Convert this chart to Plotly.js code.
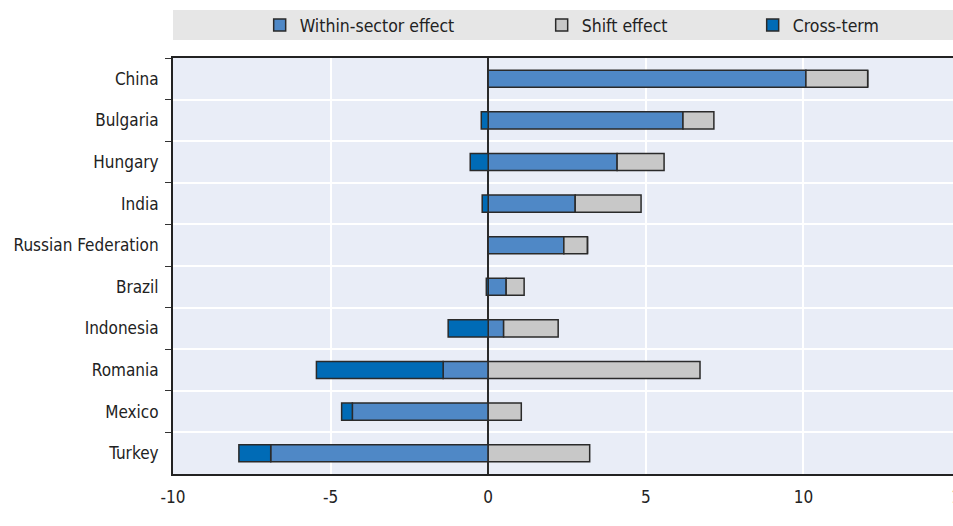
<!DOCTYPE html>
<html><head><meta charset="utf-8">
<script src="https://cdn.plot.ly/plotly-3.0.1.min.js"></script>
<style>html,body{margin:0;padding:0;overflow:hidden;background:#fff}</style>
</head><body><div id="chart" style="width:1000px;height:526px"></div>
<script>
const countries = ["China","Bulgaria","Hungary","India","Russian Federation","Brazil","Indonesia","Romania","Mexico","Turkey"];
const withinSector = [10.08, 6.18, 4.09, 2.76, 2.40, 0.57, 0.49, -1.43, -4.31, -6.90];
const shiftEffect = [1.96, 0.98, 1.49, 2.09, 0.75, 0.57, 1.73, 6.72, 1.05, 3.22];
const crossTerm = [0, -0.22, -0.57, -0.19, 0, -0.06, -1.27, -4.02, -0.34, -1.01];
const seriesNames = ["Within-sector effect", "Shift effect", "Cross-term"];
const seriesColors = ["#4f88c6", "#c8c8c8", "#006bb6"];
const xTicks = [-10, -5, 0, 5, 10, 15];

const FONT = "'Liberation Sans Narrow', 'DejaVu Sans Condensed', 'Arial Narrow', sans-serif";
const seriesValues = [withinSector, shiftEffect, crossTerm];
const legendWidths = [237, 166, 100];
const traces = seriesValues.map((vals, i) => ({
  type: "bar",
  orientation: "h",
  name: seriesNames[i],
  y: countries,
  x: vals,
  width: 0.41,
  legendwidth: legendWidths[i],
  marker: {color: seriesColors[i], line: {color: "#2a2a2a", width: 1.5}},
  hoverinfo: "x+y+name"
}));

const layout = {
  width: 1000, height: 526,
  margin: {l: 173, r: 39, t: 58, b: 52, autoexpand: false},
  barmode: "relative",
  paper_bgcolor: "#ffffff",
  plot_bgcolor: "#e9edf7",
  font: {family: FONT, size: 17, color: "#222222"},
  showlegend: true,
  legend: {orientation: "h", x: 0.110, xanchor: "left", y: (474.5 - 25) / 416.5, yanchor: "middle",
           bgcolor: "rgba(0,0,0,0)", font: {family: FONT, size: 17.5, color: "#222222"},
           traceorder: "normal"},
  xaxis: {
    range: [-10, 15], tickvals: xTicks, ticktext: xTicks.map(String),
    showgrid: true, gridcolor: "#ffffff", gridwidth: 2,
    zeroline: true, zerolinecolor: "#2a2a2a", zerolinewidth: 2,
    showline: true, linecolor: "#222222", linewidth: 2, mirror: true,
    ticks: "", ticklabelstandoff: 7, tickfont: {family: FONT, size: 17, color: "#222222"},
    fixedrange: true
  },
  yaxis: {
    type: "category", autorange: "reversed",
    tickson: "boundaries", ticks: "outside", ticklen: 6, tickcolor: "#333333", tickwidth: 1,
    showgrid: true, gridcolor: "#ffffff", gridwidth: 2,
    showline: true, linecolor: "#222222", linewidth: 2, mirror: true,
    tickfont: {family: FONT, size: 17, color: "#222222"},
    ticklabelstandoff: 9,
    fixedrange: true
  },
  shapes: [{type: "rect", xref: "paper", yref: "paper", x0: 0, x1: 1.05,
            y0: (474.5 - 40) / 416.5, y1: (474.5 - 10) / 416.5,
            fillcolor: "#e6e6e6", line: {width: 0}, layer: "below"}],
  annotations: [{xref: "x", yref: "paper", x: 15, y: (474.5 - 521) / 416.5, text: "%", showarrow: false,
                 xanchor: "center", yanchor: "middle", font: {family: FONT, size: 17, color: "#222222"}}]
};

Plotly.newPlot("chart", traces, layout, {displayModeBar: false});
</script></body></html>
